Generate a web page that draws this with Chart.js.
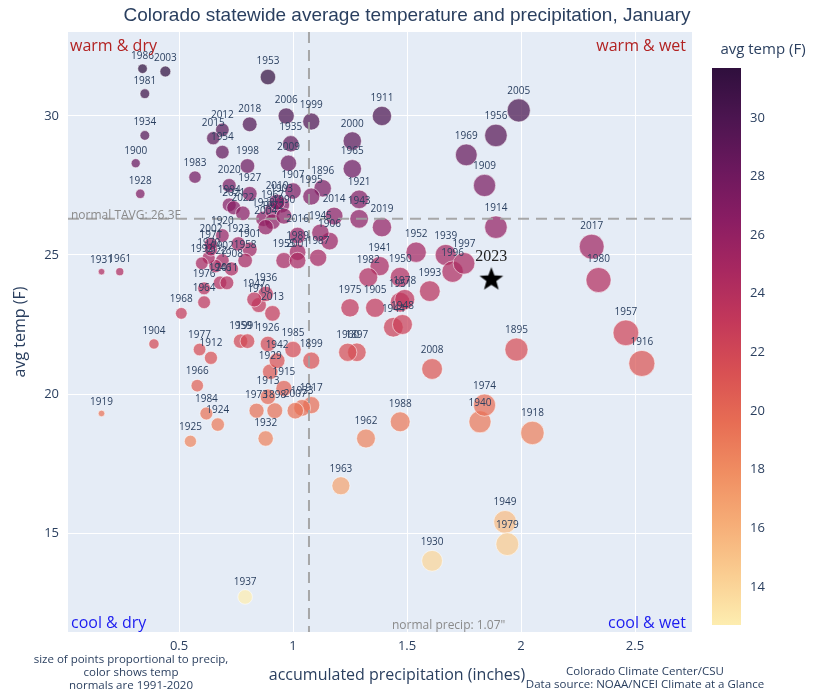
<!DOCTYPE html>
<html>
<head>
<meta charset="utf-8">
<script src="https://cdn.jsdelivr.net/npm/chart.js@4.4.1/dist/chart.umd.min.js"></script>
<style>
  html, body { margin: 0; padding: 0; background: #fff; }
</style>
</head>
<body>
<canvas id="climateChart" width="817" height="694"></canvas>
<script>
// DATA
let years = [1895, 1896, 1897, 1898, 1899, 1900, 1901, 1902, 1903, 1904,
  1905, 1906, 1907, 1908, 1909, 1910, 1911, 1912, 1913, 1914,
  1915, 1916, 1917, 1918, 1919, 1920, 1921, 1922, 1923, 1924,
  1925, 1926, 1927, 1928, 1929, 1930, 1931, 1932, 1933, 1934,
  1935, 1936, 1937, 1938, 1939, 1940, 1941, 1942, 1943, 1944,
  1945, 1946, 1947, 1948, 1949, 1950, 1951, 1952, 1953, 1954,
  1955, 1956, 1957, 1958, 1959, 1960, 1961, 1962, 1963, 1964,
  1965, 1966, 1967, 1968, 1969, 1970, 1971, 1972, 1973, 1974,
  1975, 1976, 1977, 1978, 1979, 1980, 1981, 1982, 1983, 1984,
  1985, 1986, 1987, 1988, 1989, 1990, 1991, 1992, 1993, 1994,
  1995, 1996, 1997, 1998, 1999, 2000, 2001, 2002, 2003, 2004,
  2005, 2006, 2007, 2008, 2009, 2010, 2011, 2012, 2013, 2014,
  2015, 2016, 2017, 2018, 2019, 2020, 2021, 2022];
let precipIn = [1.98, 1.13, 1.28, 0.92, 1.08, 0.31, 0.81, 0.69, 0.95, 0.39,
  1.36, 1.16, 1.00, 0.73, 1.84, 0.85, 1.39, 0.64, 0.89, 1.89,
  0.96, 2.53, 1.08, 2.05, 0.16, 0.69, 1.29, 0.66, 0.76, 0.67,
  0.55, 0.89, 0.81, 0.33, 0.90, 1.61, 0.16, 0.88, 1.04, 0.35,
  0.99, 0.88, 0.79, 0.87, 1.67, 1.82, 1.38, 0.93, 1.29, 1.44,
  1.12, 0.68, 0.83, 1.48, 1.93, 1.47, 1.47, 1.54, 0.89, 0.69,
  0.96, 1.89, 2.46, 0.79, 0.77, 1.24, 0.24, 1.32, 1.21, 0.61,
  1.26, 0.58, 0.91, 0.51, 1.76, 0.63, 0.64, 0.91, 0.84, 1.84,
  1.25, 0.61, 0.59, 1.49, 1.94, 2.34, 0.35, 1.33, 0.57, 0.62,
  1.00, 0.34, 1.11, 1.47, 1.02, 0.96, 0.80, 0.60, 1.60, 0.72,
  1.08, 1.70, 1.75, 0.80, 1.08, 1.26, 1.02, 0.64, 0.44, 0.88,
  1.99, 0.97, 1.01, 1.61, 0.98, 0.93, 0.71, 0.69, 0.91, 1.18,
  0.65, 1.02, 2.31, 0.81, 1.39, 0.72, 0.74, 0.78];
let avgTempF = [21.6, 27.4, 21.5, 19.4, 21.2, 28.3, 25.2, 24.8, 26.8, 21.8,
  23.1, 25.5, 27.3, 24.5, 27.5, 23.2, 30.0, 21.3, 19.9, 26.0,
  20.2, 21.1, 19.6, 18.6, 19.3, 25.7, 27.0, 24.6, 25.4, 18.9,
  18.3, 21.8, 27.2, 27.2, 20.8, 14.0, 24.4, 18.4, 19.5, 29.3,
  29.0, 23.6, 12.7, 26.3, 25.0, 19.0, 24.6, 21.2, 26.3, 22.4,
  25.8, 24.0, 23.4, 22.5, 15.4, 24.2, 23.3, 25.1, 31.4, 28.7,
  24.8, 29.3, 22.2, 24.8, 21.9, 21.5, 24.4, 18.4, 16.7, 23.3,
  28.1, 20.3, 26.6, 22.9, 28.6, 24.9, 25.2, 26.2, 19.4, 19.6,
  23.1, 23.8, 21.6, 23.4, 14.6, 24.1, 30.8, 24.2, 27.8, 19.3,
  21.6, 31.7, 24.9, 19.0, 25.1, 26.4, 21.9, 24.7, 23.7, 26.8,
  27.1, 24.4, 24.7, 28.2, 29.8, 29.1, 24.8, 25.4, 31.6, 26.0,
  30.2, 30.0, 19.4, 20.9, 28.3, 26.9, 24.0, 29.5, 22.9, 26.4,
  29.2, 25.7, 25.3, 29.7, 26.0, 27.5, 26.7, 26.5];
let star2023 = { year: 2023, precip: 1.87, temp: 24.15 };
let normalPrecip = 1.07;
let normalTavg = 26.3;
let xTickValues = [0.5, 1, 1.5, 2, 2.5];
let yTickValues = [15, 20, 25, 30];
let colorbarTicks = [14, 16, 18, 20, 22, 24, 26, 28, 30];

// matter colour scale, light yellow -> dark purple
let matterScale = [[253, 237, 176], [250, 205, 145], [246, 173, 119], [240, 142, 98],
  [231, 109, 84], [216, 80, 83], [195, 56, 90], [168, 40, 96],
  [138, 29, 99], [107, 24, 93], [76, 21, 80], [47, 15, 61]];
let tMin = Math.min(...avgTempF), tMax = Math.max(...avgTempF);

function matterColor(v, alpha) {
  let t = Math.min(1, Math.max(0, (v - tMin) / (tMax - tMin)));
  let pos = t * (matterScale.length - 1);
  let i = Math.min(Math.floor(pos), matterScale.length - 2);
  let f = pos - i;
  let a = matterScale[i], b = matterScale[i + 1];
  let c = a.map((ch, k) => Math.round(ch + (b[k] - ch) * f));
  return 'rgba(' + c[0] + ',' + c[1] + ',' + c[2] + ',' + alpha + ')';
}

function bubbleRadius(p) { return 8.2 * Math.sqrt(p); }

// filled star used as point style for 2023
let starImg = document.createElement('canvas');
starImg.width = 26; starImg.height = 26;
(function () {
  let c = starImg.getContext('2d');
  c.beginPath();
  for (let k = 0; k < 10; k++) {
    let r = k % 2 === 0 ? 12.5 : 5.2;
    let a = -Math.PI / 2 + k * Math.PI / 5;
    let px = 13 + r * Math.cos(a), py = 14 + r * Math.sin(a);
    if (k === 0) c.moveTo(px, py); else c.lineTo(px, py);
  }
  c.closePath();
  c.fillStyle = '#000';
  c.fill();
})();

let fontFam = '"Open Sans", "Liberation Sans", Arial, sans-serif';
let textCol = '#2a3f5f';

function drawText(ctx, txt, x, y, opts) {
  ctx.save();
  ctx.font = opts.font;
  ctx.fillStyle = opts.color || textCol;
  ctx.textAlign = opts.align || 'center';
  ctx.textBaseline = 'middle';
  ctx.fillText(txt, x, y);
  ctx.restore();
}

let decorPlugin = {
  id: 'decor',
  beforeDraw(chart) {
    let { ctx, chartArea: a } = chart;
    ctx.save();
    ctx.fillStyle = '#e5ecf6';
    ctx.fillRect(a.left, a.top, a.right - a.left, a.bottom - a.top);
    ctx.restore();
  },
  afterDatasetsDraw(chart) {
    let { ctx, chartArea: a, scales: { x, y } } = chart;
    // normal lines
    ctx.save();
    ctx.strokeStyle = 'rgba(160,160,160,0.9)';
    ctx.lineWidth = 2;
    ctx.setLineDash([11, 7]);
    let nx = x.getPixelForValue(normalPrecip);
    let ny = y.getPixelForValue(normalTavg);
    ctx.beginPath(); ctx.moveTo(nx, a.top); ctx.lineTo(nx, a.bottom); ctx.stroke();
    ctx.beginPath(); ctx.moveTo(a.left, ny); ctx.lineTo(a.right, ny); ctx.stroke();
    ctx.restore();

    // year labels
    let meta = chart.getDatasetMeta(0);
    meta.data.forEach((pt, i) => {
      let r = bubbleRadius(precipIn[i]);
      drawText(ctx, String(years[i]), pt.x, pt.y - r - 8, { font: '10px ' + fontFam });
    });
    let sm = chart.getDatasetMeta(1).data[0];
    drawText(ctx, String(star2023.year), sm.x, sm.y - 22, { font: '16px "Liberation Serif", "DejaVu Serif", serif', color: '#222' });

    // quadrant notes
    let qf = '16px ' + fontFam;
    drawText(ctx, 'warm & dry', a.left + 2, a.top + 14, { font: qf, color: '#b22222', align: 'left' });
    drawText(ctx, 'warm & wet', a.right - 6, a.top + 14, { font: qf, color: '#b22222', align: 'right' });
    drawText(ctx, 'cool & dry', a.left + 3, a.bottom - 9, { font: qf, color: '#1c1cf0', align: 'left' });
    drawText(ctx, 'cool & wet', a.right - 6, a.bottom - 9, { font: qf, color: '#1c1cf0', align: 'right' });
    drawText(ctx, 'normal TAVG: ' + normalTavg + 'F', a.left + 3, ny - 3, { font: '12px ' + fontFam, color: '#8a8a8a', align: 'left' });
    drawText(ctx, 'normal precip: ' + normalPrecip.toFixed(2) + '"', nx + 83, a.bottom - 6, { font: '12px ' + fontFam, color: '#8a8a8a', align: 'left' });
  },
  afterDraw(chart) {
    let { ctx, chartArea: a } = chart;
    drawText(ctx, 'Colorado statewide average temperature and precipitation, January', 407, 16,
      { font: '19px "Liberation Sans", Arial, sans-serif' });
    drawText(ctx, 'accumulated precipitation (inches)', 397, 675, { font: '16px ' + fontFam });
    ctx.save();
    ctx.translate(20, (a.top + a.bottom) / 2);
    ctx.rotate(-Math.PI / 2);
    drawText(ctx, 'avg temp (F)', 0, 0, { font: '16px ' + fontFam });
    ctx.restore();

    // footnotes
    let fn = { font: '11.5px ' + fontFam };
    drawText(ctx, 'size of points proportional to precip,', 131, 660, fn);
    drawText(ctx, 'color shows temp', 131, 673, fn);
    drawText(ctx, 'normals are 1991-2020', 131, 686, fn);
    drawText(ctx, 'Colorado Climate Center/CSU', 645, 672, fn);
    drawText(ctx, 'Data source: NOAA/NCEI Climate at a Glance', 645, 685, fn);

    // colour bar
    let cbL = 712, cbW = 29, cbT = 68, cbB = 625;
    let grad = ctx.createLinearGradient(0, cbB, 0, cbT);
    matterScale.forEach((c, k) => grad.addColorStop(k / (matterScale.length - 1), 'rgb(' + c.join(',') + ')'));
    ctx.save();
    ctx.fillStyle = grad;
    ctx.fillRect(cbL, cbT, cbW, cbB - cbT);
    ctx.restore();
    colorbarTicks.forEach(v => {
      let ty = cbB - (v - tMin) / (tMax - tMin) * (cbB - cbT);
      drawText(ctx, String(v), cbL + cbW + 9, ty, { font: '13px ' + fontFam, align: 'left' });
    });
    drawText(ctx, 'avg temp (F)', 763, 50, { font: '15px ' + fontFam });
  }
};

let ctxEl = document.getElementById('climateChart').getContext('2d');
let climateChart = new Chart(ctxEl, {
  type: 'scatter',
  data: {
    datasets: [{
      label: 'January',
      data: years.map((yr, i) => ({ x: precipIn[i], y: avgTempF[i] })),
      pointRadius: c => bubbleRadius(precipIn[c.dataIndex]),
      backgroundColor: c => matterColor(avgTempF[c.dataIndex], 0.72),
      borderColor: 'rgba(255,255,255,0.55)',
      borderWidth: 1
    }, {
      label: '2023',
      data: [{ x: star2023.precip, y: star2023.temp }],
      pointStyle: starImg,
      pointRadius: 13
    }]
  },
  options: {
    responsive: false,
    animation: false,
    events: [],
    layout: { padding: { top: 32, right: 125, left: 0, bottom: 0 } },
    plugins: { legend: { display: false }, tooltip: { enabled: false } },
    scales: {
      x: {
        type: 'linear', min: 0.013, max: 2.75,
        afterFit: s => { s.height = 62; },
        afterBuildTicks: s => { s.ticks = xTickValues.map(v => ({ value: v })); },
        grid: { color: '#ffffff', lineWidth: 1, drawTicks: false },
        border: { display: false },
        ticks: { padding: 6, color: textCol, font: { size: 13, family: fontFam },
          callback: v => String(v) }
      },
      y: {
        type: 'linear', min: 11.44, max: 33.02,
        afterFit: s => { s.width = 68; },
        afterBuildTicks: s => { s.ticks = yTickValues.map(v => ({ value: v })); },
        grid: { color: '#ffffff', lineWidth: 1, drawTicks: false },
        border: { display: false },
        ticks: { padding: 9, color: textCol, font: { size: 13, family: fontFam } }
      }
    }
  },
  plugins: [decorPlugin]
});
</script>
</body>
</html>
